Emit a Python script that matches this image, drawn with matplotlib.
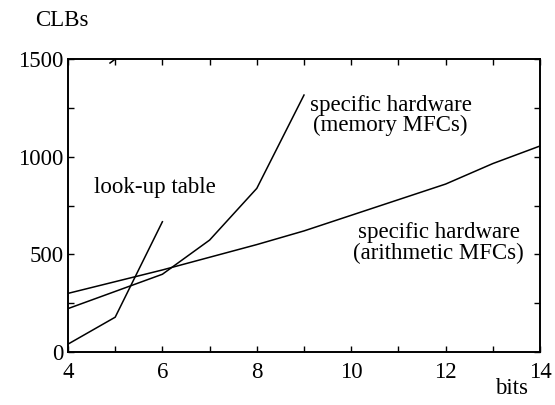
import matplotlib.pyplot as plt
from matplotlib.ticker import MultipleLocator

plt.rcParams['font.family'] = ['Liberation Serif', 'DejaVu Serif']

bits = [4, 5, 6, 7, 8, 9, 10, 11, 12, 13, 14]
lut_bits = [4, 5, 6]
lut_clbs = [40, 178, 667]
mem_bits = [4, 5, 6, 7, 8, 9]
mem_clbs = [222, 310, 398, 573, 838, 1316]
arith_clbs = [300, 360, 420, 485, 550, 620, 700, 780, 860, 965, 1055]
stray_bits = [4.89, 5.0]
stray_clbs = [1480, 1500]

fs = 16.5

fig = plt.figure(figsize=(5.55, 4.05), dpi=100)
ax = fig.add_axes([0.1225, 0.131, 0.8505, 0.723])

ax.plot(lut_bits, lut_clbs, 'k-', lw=1.1)
ax.plot(mem_bits, mem_clbs, 'k-', lw=1.1)
ax.plot(bits, arith_clbs, 'k-', lw=1.1)
ax.plot(stray_bits, stray_clbs, 'k-', lw=1.1)

ax.set_xlim(4, 14)
ax.set_ylim(0, 1500)
ax.xaxis.set_major_locator(MultipleLocator(2))
ax.xaxis.set_minor_locator(MultipleLocator(1))
ax.yaxis.set_major_locator(MultipleLocator(500))
ax.yaxis.set_minor_locator(MultipleLocator(250))
ax.tick_params(which='both', direction='in', top=True, right=True,
               length=4, width=1, labelsize=fs)
ax.tick_params(axis='x', pad=7)
ax.tick_params(axis='y', pad=3)
for s in ax.spines.values():
    s.set_linewidth(1.4)

ax.text(5.85, 840, 'look-up table', fontsize=fs, ha='center', va='center')
ax.text(9.12, 1210, 'specific hardware\n(memory MFCs)', fontsize=fs,
        ha='left', va='center', multialignment='center', linespacing=0.95)
ax.text(11.85, 558, 'specific hardware\n(arithmetic MFCs)', fontsize=fs,
        ha='center', va='center', linespacing=0.95)

fig.text(62 / 555, 1 - 20 / 405, 'CLBs', fontsize=fs, ha='center', va='center')
fig.text(512 / 555, 1 - 388 / 405, 'bits', fontsize=fs, ha='center', va='center')

fig.savefig('out.png', dpi=100)
